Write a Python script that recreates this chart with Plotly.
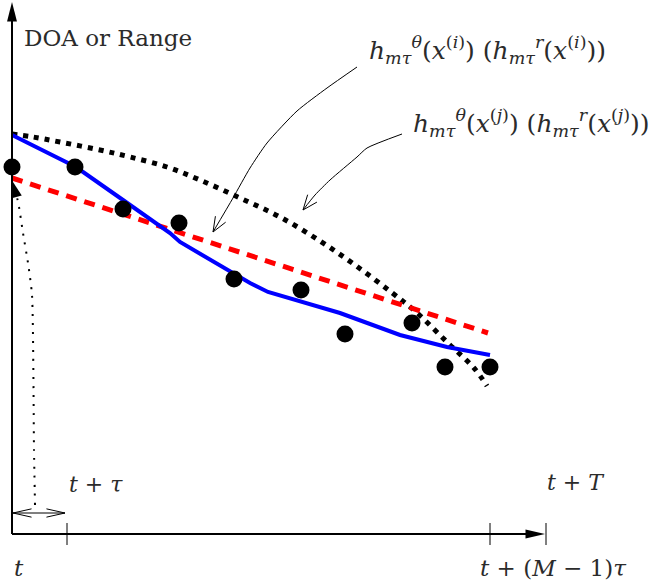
import numpy as np
import plotly.graph_objects as go

# ---- data (x: time offset from t, y: height above time axis) ----
obs_x = [0, 63, 111, 167, 222, 289, 333, 400, 433, 478]
obs_y = [367, 367, 325, 311, 255, 244, 200, 211, 167, 167]

blue_x = [0, 64, 111, 158, 168, 238, 256, 328, 388, 435, 478]
blue_y = [399, 367, 334, 301, 292, 251, 242, 221, 199, 187, 179]

red_x = [0, 476]
red_y = [356, 201]

dot_x = [0, 21, 48, 88, 118, 155, 188, 228, 268, 308, 343, 379, 404, 436, 462, 475]
dot_y = [400, 397, 392, 384, 377, 367, 354, 336, 317, 293, 269, 242, 222, 191, 166, 148]

# annotation callout curves
call1_x = [345, 315, 285, 255, 238, 221, 201]
call1_y = [467, 446, 423, 391, 366, 336, 302]
call2_x = [390, 355, 345, 318, 303, 291]
call2_y = [400, 386, 377, 354, 339, 324]

# thin dotted arrow to first observation
tau_x = [23, 22, 20, 16, 11, 7, 3]
tau_y = [29, 84, 239, 271, 301, 327, 346]

# axis geometry
x_end = 534
y_end = 532
tick_pos = [55, 478]
tick_labels = ["<i>t</i> + <i>τ</i>", "<i>t</i> + (<i>M</i> − 1)<i>τ</i>"]

TXT = "#2b2b2b"
FONT = "DejaVu Serif"

fig = go.Figure()

# curves
fig.add_trace(go.Scatter(x=dot_x, y=dot_y, mode="lines", line=dict(color="black", width=5, dash="5px,6px", shape="spline"), hoverinfo="skip"))
fig.add_trace(go.Scatter(x=red_x, y=red_y, mode="lines", line=dict(color="#ff0000", width=5, dash="11px,8px"), hoverinfo="skip"))
fig.add_trace(go.Scatter(x=blue_x, y=blue_y, mode="lines", line=dict(color="#0000ff", width=4), hoverinfo="skip"))
fig.add_trace(go.Scatter(x=obs_x, y=obs_y, mode="markers", marker=dict(color="black", size=17, line=dict(width=0)), hoverinfo="skip"))

# callout lines
for cx, cy in [(call1_x, call1_y), (call2_x, call2_y)]:
    fig.add_trace(go.Scatter(x=cx, y=cy, mode="lines", line=dict(color="black", width=1, shape="spline", smoothing=0.6), hoverinfo="skip"))
fig.add_trace(go.Scatter(x=tau_x, y=tau_y, mode="lines", line=dict(color="black", width=2, dash="2px,7px", shape="spline", smoothing=0.6), hoverinfo="skip"))


def vhead(xs, ys, length=15, half=0.42):
    """Open V arrowhead at the end of a polyline."""
    tx, ty = xs[-1], ys[-1]
    dx, dy = xs[-1] - xs[-2], ys[-1] - ys[-2]
    a = np.arctan2(dy, dx)
    p1 = (tx - length * np.cos(a - half), ty - length * np.sin(a - half))
    p2 = (tx - length * np.cos(a + half), ty - length * np.sin(a + half))
    return f"M {p1[0]},{p1[1]} L {tx},{ty} L {p2[0]},{p2[1]}"


def fhead(tx, ty, ang, length, half):
    b1 = (tx - length * np.cos(ang - half), ty - length * np.sin(ang - half))
    b2 = (tx - length * np.cos(ang + half), ty - length * np.sin(ang + half))
    return f"M {tx},{ty} L {b1[0]},{b1[1]} L {b2[0]},{b2[1]} Z"


shapes = []
line_k = dict(color="black", width=2)
# axes
shapes.append(dict(type="line", x0=0, y0=0, x1=0, y1=y_end - 16, line=line_k))
shapes.append(dict(type="line", x0=0, y0=0, x1=x_end - 16, y1=0, line=line_k))
shapes.append(dict(type="path", path=fhead(0, y_end, np.pi / 2, 20, 0.25), fillcolor="black", line=dict(width=0)))
shapes.append(dict(type="path", path=fhead(x_end - 1, 0, 0, 20, 0.23), fillcolor="black", line=dict(width=0)))
# ticks
for tp in tick_pos + [x_end]:
    shapes.append(dict(type="line", x0=tp, y0=-11, x1=tp, y1=11, line=dict(color="black", width=1)))
# double arrow (tau interval)
shapes.append(dict(type="line", x0=1, y0=21, x1=53, y1=21, line=dict(color="black", width=1)))
shapes.append(dict(type="path", path=vhead([30, 1], [21, 21], 19, 0.22), line=dict(color="black", width=1)))
shapes.append(dict(type="path", path=vhead([30, 53], [21, 21], 19, 0.22), line=dict(color="black", width=1)))
# callout heads
shapes.append(dict(type="path", path=vhead(call1_x, call1_y, 16, 0.38), line=dict(color="black", width=1)))
shapes.append(dict(type="path", path=vhead(call2_x, call2_y, 16, 0.38), line=dict(color="black", width=1)))
# filled head on dotted tau arrow
shapes.append(dict(type="path", path=fhead(1, 352, np.arctan2(352 - 338, 1 - 5), 16, 0.3), fillcolor="black", line=dict(width=0)))

fig.update_layout(shapes=shapes)

ann = [
    dict(x=10, y=496, text="DOA or Range", size=23),
    dict(x=355, y=484, text="<i>h</i><sub><i>mτ</i></sub><sup><i>θ</i></sup>(<i>x</i><sup>(<i>i</i>)</sup>) (<i>h</i><sub><i>mτ</i></sub><sup><i>r</i></sup>(<i>x</i><sup>(<i>i</i>)</sup>))", size=25),
    dict(x=399, y=411, text="<i>h</i><sub><i>mτ</i></sub><sup><i>θ</i></sup>(<i>x</i><sup>(<i>j</i>)</sup>) (<i>h</i><sub><i>mτ</i></sub><sup><i>r</i></sup>(<i>x</i><sup>(<i>j</i>)</sup>))", size=25),
    dict(x=tick_pos[0], y=50, text=tick_labels[0], size=22),
    dict(x=x_end - 1, y=52, text="<i>t</i> + <i>T</i>", size=22),
    dict(x=0, y=-34, text="<i>t</i>", size=23),
    dict(x=tick_pos[1] - 12, y=-34, text=tick_labels[1], size=23),
]
for a in ann:
    fig.add_annotation(x=a["x"], y=a["y"], text=a["text"], showarrow=False, xanchor="left", yanchor="middle",
                       xref="x", yref="y", font=dict(family=FONT, size=a["size"], color=TXT))

fig.update_layout(
    width=664, height=586, margin=dict(l=0, r=0, t=0, b=0),
    paper_bgcolor="white", plot_bgcolor="white", showlegend=False,
    font=dict(family=FONT),
    xaxis=dict(range=[-12, 652], visible=False, fixedrange=True),
    yaxis=dict(range=[-52, 534], visible=False, fixedrange=True),
)
fig.write_html("out.html")
